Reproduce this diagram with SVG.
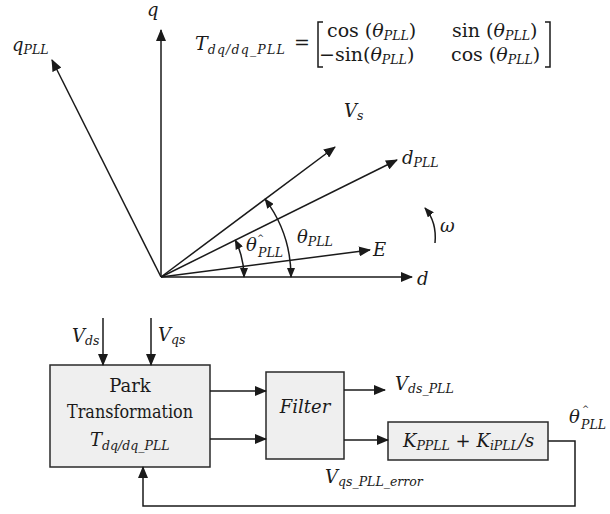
<svg xmlns="http://www.w3.org/2000/svg" width="610" height="514" viewBox="0 0 610 514">
<style>
.t{font-family:"DejaVu Serif","Liberation Serif",serif;font-size:18px;fill:#1a1a1a}
.m{font-size:19px}
.i{font-style:italic}
.s{font-size:12.5px;font-style:italic}
.hat{font-size:8.5px}
.ln{stroke:#1a1a1a;stroke-width:1.5;fill:none}
.box{fill:#efefef;stroke:#2a2a2a;stroke-width:1.5}
</style>
<defs>
<marker id="ah" markerUnits="userSpaceOnUse" markerWidth="12" markerHeight="10" refX="11" refY="5" orient="auto-start-reverse" viewBox="0 0 12 10">
<path d="M0,0 L12,5 L0,10 Z" fill="#1a1a1a"/>
</marker>
<marker id="ahs" markerUnits="userSpaceOnUse" markerWidth="10" markerHeight="8" refX="9" refY="4" orient="auto-start-reverse" viewBox="0 0 10 8">
<path d="M0,0 L10,4 L0,8 Z" fill="#1a1a1a"/>
</marker>
</defs>
<rect width="610" height="514" fill="#fff"/>

<g id="phasor">
<line class="ln" x1="161" y1="277" x2="161" y2="30" marker-end="url(#ah)"/>
<line class="ln" x1="161" y1="277" x2="412" y2="277" marker-end="url(#ah)"/>
<line class="ln" x1="161" y1="277" x2="52" y2="60" marker-end="url(#ah)"/>
<line class="ln" x1="161" y1="277" x2="335" y2="147" marker-end="url(#ah)"/>
<line class="ln" x1="161" y1="277" x2="397" y2="160" marker-end="url(#ah)"/>
<line class="ln" x1="161" y1="277" x2="370" y2="250" marker-end="url(#ah)"/>
<path class="ln" d="M244,277 A83,83 0 0 0 235.3,240.1" marker-start="url(#ahs)" marker-end="url(#ahs)"/>
<path class="ln" d="M291,277 A130,130 0 0 0 265.1,199.1" marker-start="url(#ahs)" marker-end="url(#ahs)"/>
<path class="ln" d="M435,243 Q437,222 425,208" marker-end="url(#ahs)"/>
<text class="t i" x="147" y="16">q</text>
<text class="t i" x="12" y="51">q<tspan class="s" dy="3">PLL</tspan></text>
<text class="t i" x="344" y="117">V<tspan class="s" dy="3">s</tspan></text>
<text class="t i" x="402" y="164">d<tspan class="s" dy="3">PLL</tspan></text>
<text class="t i" x="373" y="256">E</text>
<text class="t i" x="417" y="285">d</text>
<text class="t i" x="440" y="232">ω</text>
<text class="t i" x="246" y="251">θ</text>
<text class="t hat" x="257" y="241">^</text>
<text class="t s" x="258" y="257">PLL</text>
<text class="t i" x="297" y="243">θ<tspan class="s" dy="3">PLL</tspan></text>
</g>

<g id="matrix">
<text class="t m i" x="195" y="50">T<tspan class="s" dy="4" font-size="13.5" letter-spacing="1.2">dq/dq_PLL</tspan></text>
<text class="t m" x="294" y="49">=</text>
<path class="ln" stroke-width="1.3" d="M323,22 H318 V67 H323 M545,22 H550 V67 H545"/>
<text class="t m" x="327" y="37">cos (<tspan class="i">θ</tspan><tspan class="s" font-size="13.5" dy="3">PLL</tspan><tspan dy="-3">)</tspan></text>
<text class="t m" x="452" y="37">sin (<tspan class="i">θ</tspan><tspan class="s" font-size="13.5" dy="3">PLL</tspan><tspan dy="-3">)</tspan></text>
<text class="t m" x="319" y="61">−sin(<tspan class="i">θ</tspan><tspan class="s" font-size="13.5" dy="3">PLL</tspan><tspan dy="-3">)</tspan></text>
<text class="t m" x="451" y="61">cos (<tspan class="i">θ</tspan><tspan class="s" font-size="13.5" dy="3">PLL</tspan><tspan dy="-3">)</tspan></text>
</g>

<g id="park">
<rect class="box" x="50" y="365" width="160" height="102"/>
<text class="t" x="130" y="392" text-anchor="middle">Park</text>
<text class="t" x="67" y="418" textLength="126" lengthAdjust="spacingAndGlyphs">Transformation</text>
<text class="t i" x="90" y="446">T<tspan class="s" dy="4">dq/dq_PLL</tspan></text>
</g>

<g id="filter">
<rect class="box" x="266" y="372" width="78" height="87"/>
<text class="t i" x="305" y="413" text-anchor="middle">Filter</text>
</g>

<g id="pi">
<rect class="box" x="388" y="422" width="160" height="38"/>
<text class="t i" x="403" y="447">K<tspan class="s" dy="3">PPLL</tspan><tspan dy="-3" font-style="normal"> + </tspan>K<tspan class="s" dy="3">iPLL</tspan><tspan dy="-3">/s</tspan></text>
</g>

<g id="labels">
<text class="t i" x="72" y="342">V<tspan class="s" dy="3">ds</tspan></text>
<text class="t i" x="158" y="341">V<tspan class="s" dy="3">qs</tspan></text>
<text class="t i" x="395" y="390">V<tspan class="s" dy="3">ds_PLL</tspan></text>
<text class="t i" x="325" y="483">V<tspan class="s" dy="3">qs_PLL_error</tspan></text>
<text class="t i" x="569" y="423">θ</text>
<text class="t hat" x="582" y="412">^</text>
<text class="t s" x="581" y="429">PLL</text>
</g>

<g id="connectors">
<line class="ln" x1="103" y1="318" x2="103" y2="365" marker-end="url(#ah)"/>
<line class="ln" x1="151" y1="318" x2="151" y2="365" marker-end="url(#ah)"/>
<line class="ln" x1="210" y1="391" x2="266" y2="391" marker-end="url(#ah)"/>
<line class="ln" x1="210" y1="439" x2="266" y2="439" marker-end="url(#ah)"/>
<line class="ln" x1="344" y1="390" x2="385" y2="390" marker-end="url(#ah)"/>
<line class="ln" x1="344" y1="440" x2="388" y2="440" marker-end="url(#ah)"/>
<path class="ln" d="M548,441 H575 V506 H143 V467" marker-end="url(#ah)"/>
</g>
</svg>
